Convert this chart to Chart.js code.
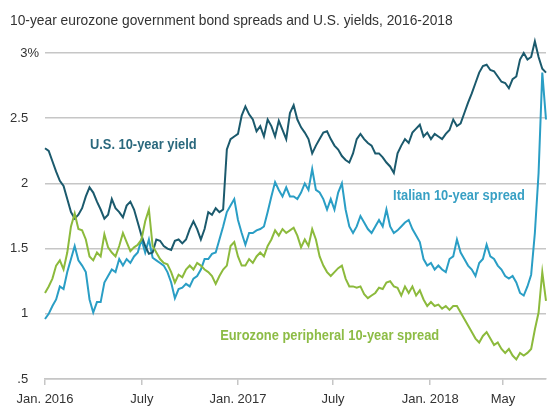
<!DOCTYPE html>
<html>
<head>
<meta charset="utf-8">
<script src="https://cdn.jsdelivr.net/npm/chart.js@4.4.1/dist/chart.umd.min.js"></script>
<style>
  html, body { margin: 0; padding: 0; background: #fff; }
  #wrap { position: relative; width: 548px; height: 407px; }
  #title {
    position: absolute; left: 10px; top: 11px;
    font: 15px "Liberation Sans", Arial, sans-serif; line-height: 18px;
    color: #333; white-space: nowrap;
    transform: scaleX(0.92); transform-origin: left top;
  }
  canvas { position: absolute; left: 0; top: 0; }
</style>
</head>
<body>
<div id="wrap">
  <canvas id="spreadChart" width="548" height="407"></canvas>
  <div id="title">10-year eurozone government bond spreads and U.S. yields, 2016-2018</div>
</div>
<script>
// weekly readings, week 0 = first week of Jan. 2016
const usYield = [
  2.27, 2.25, 2.17, 2.09, 2.02, 1.98, 1.88, 1.78, 1.73, 1.76,
  1.81, 1.90, 1.97, 1.93, 1.86, 1.80, 1.73, 1.76, 1.88, 1.81,
  1.78, 1.74, 1.83, 1.86, 1.80, 1.70, 1.60, 1.52, 1.46, 1.47,
  1.57, 1.56, 1.52, 1.50, 1.49, 1.56, 1.57, 1.54, 1.57, 1.65,
  1.71, 1.65, 1.57, 1.65, 1.78, 1.76, 1.81, 1.78, 1.80, 2.26,
  2.34, 2.36, 2.38, 2.52, 2.59, 2.53, 2.49, 2.40, 2.44, 2.36,
  2.49, 2.44, 2.36, 2.48, 2.41, 2.34, 2.54, 2.60, 2.49, 2.43,
  2.39, 2.34, 2.23, 2.29, 2.34, 2.39, 2.40, 2.34, 2.29, 2.26,
  2.21, 2.18, 2.16, 2.23, 2.34, 2.38, 2.34, 2.31, 2.29, 2.23,
  2.23, 2.20, 2.16, 2.13, 2.08, 2.23, 2.29, 2.34, 2.31, 2.39,
  2.42, 2.45, 2.36, 2.39, 2.34, 2.38, 2.36, 2.34, 2.38, 2.41,
  2.49, 2.44, 2.46, 2.54, 2.62, 2.69, 2.77, 2.85, 2.90, 2.91,
  2.87, 2.86, 2.82, 2.78, 2.77, 2.73, 2.80, 2.82, 2.95, 3.00,
  2.95, 2.97, 3.09, 2.97, 2.88, 2.85
];
const italianSpread = [
  0.96, 1.00, 1.06, 1.11, 1.21, 1.19, 1.32, 1.42, 1.52, 1.41,
  1.37, 1.32, 1.11, 1.01, 1.09, 1.09, 1.24, 1.29, 1.34, 1.32,
  1.42, 1.37, 1.42, 1.39, 1.44, 1.47, 1.57, 1.47, 1.57, 1.43,
  1.41, 1.39, 1.37, 1.32, 1.24, 1.12, 1.19, 1.20, 1.23, 1.21,
  1.27, 1.29, 1.34, 1.42, 1.42, 1.46, 1.47, 1.57, 1.67, 1.78,
  1.83, 1.88, 1.72, 1.62, 1.53, 1.62, 1.62, 1.64, 1.65, 1.67,
  1.78, 1.90, 2.01, 1.95, 1.90, 1.97, 1.90, 1.90, 1.88, 1.93,
  2.00, 1.95, 2.11, 1.95, 1.93, 1.88, 1.80, 1.88, 1.80, 1.93,
  2.00, 1.80, 1.67, 1.62, 1.67, 1.75, 1.70, 1.65, 1.62, 1.67,
  1.72, 1.67, 1.80, 1.67, 1.62, 1.64, 1.67, 1.70, 1.72, 1.65,
  1.60, 1.55, 1.42, 1.37, 1.39, 1.34, 1.37, 1.34, 1.32, 1.42,
  1.44, 1.57, 1.47, 1.42, 1.37, 1.34, 1.29, 1.39, 1.42, 1.53,
  1.44, 1.42, 1.37, 1.34, 1.29, 1.27, 1.29, 1.24, 1.16, 1.14,
  1.21, 1.30, 1.62, 2.08, 2.85, 2.49
];
const peripheralSpread = [
  1.16, 1.21, 1.27, 1.37, 1.41, 1.34, 1.47, 1.67, 1.77, 1.65,
  1.64, 1.57, 1.44, 1.41, 1.47, 1.44, 1.61, 1.51, 1.47, 1.44,
  1.52, 1.62, 1.55, 1.48, 1.51, 1.53, 1.57, 1.71, 1.80, 1.52,
  1.47, 1.42, 1.39, 1.38, 1.32, 1.24, 1.30, 1.28, 1.34, 1.37,
  1.34, 1.39, 1.37, 1.34, 1.32, 1.29, 1.23, 1.29, 1.34, 1.37,
  1.52, 1.55, 1.44, 1.37, 1.37, 1.42, 1.39, 1.44, 1.47, 1.44,
  1.52, 1.57, 1.64, 1.60, 1.65, 1.62, 1.64, 1.66, 1.60, 1.51,
  1.57, 1.52, 1.65, 1.57, 1.44, 1.37, 1.32, 1.29, 1.32, 1.35,
  1.37, 1.27, 1.21, 1.21, 1.20, 1.21, 1.15, 1.12, 1.14, 1.16,
  1.20, 1.19, 1.24, 1.25, 1.21, 1.20, 1.14, 1.21, 1.16, 1.21,
  1.14, 1.18, 1.11, 1.06, 1.09, 1.06, 1.07, 1.04, 1.06, 1.03,
  1.06, 1.06, 1.01, 0.96, 0.91, 0.86, 0.81, 0.78, 0.83, 0.86,
  0.81, 0.76, 0.78, 0.73, 0.70, 0.73, 0.68, 0.65, 0.70, 0.68,
  0.70, 0.73, 0.88, 1.01, 1.32, 1.10
];

// x-axis: week positions of the date labels
const dateTickWeeks = [0, 26.1, 52, 77.6, 103.8, 123.4];
const dateTickLabels = ["Jan. 2016", "July", "Jan. 2017", "July", "Jan. 2018", "May"];
// y-axis: percent
const yieldTicks = [0.5, 1, 1.5, 2, 2.5, 3];
const yieldTickLabels = [".5", "1", "1.5", "2", "2.5", "3%"];

const FONT = "'Liberation Sans', Arial, sans-serif";
const TEXT = "#333333";
const GRID = "#c6c6c6";

// inline line labels, placed in data units (week, percent)
const seriesLabels = [
  { text: "U.S. 10-year yield", week: 12.1, value: 2.29, color: "#2a687d" },
  { text: "Italian 10-year spread", week: 93.8, value: 1.9, color: "#38a0c4" },
  { text: "Eurozone peripheral 10-year spread", week: 47.2, value: 0.83, color: "#8dbc46" },
];

const seriesLabelPlugin = {
  id: "seriesLabels",
  afterDatasetsDraw(chart) {
    const { ctx, scales } = chart;
    const squeeze = 0.92;
    ctx.save();
    ctx.font = "bold 14px " + FONT;
    ctx.textBaseline = "middle";
    ctx.textAlign = "left";
    seriesLabels.forEach((l) => {
      const x = scales.x.getPixelForValue(l.week);
      const y = scales.y.getPixelForValue(l.value);
      ctx.save();
      ctx.translate(x, y);
      ctx.scale(squeeze, 1);
      ctx.fillStyle = l.color;
      ctx.fillText(l.text, 0, 0);
      ctx.restore();
    });
    ctx.restore();
  },
};

function toPoints(values) {
  return values.map((v, i) => ({ x: i, y: v }));
}

const ctx = document.getElementById("spreadChart").getContext("2d");

new Chart(ctx, {
  type: "line",
  data: {
    datasets: [
      {
        label: "Eurozone peripheral 10-year spread",
        data: toPoints(peripheralSpread),
        borderColor: "#8cba3c",
      },
      {
        label: "U.S. 10-year yield",
        data: toPoints(usYield),
        borderColor: "#1b5a6d",
      },
      {
        label: "Italian 10-year spread",
        data: toPoints(italianSpread),
        borderColor: "#2a9ec5",
      },
    ],
  },
  options: {
    responsive: false,
    animation: false,
    devicePixelRatio: 1,
    datasets: {
      line: { borderWidth: 2, pointRadius: 0, tension: 0, clip: false },
    },
    layout: { padding: { top: 40, right: 2, bottom: 0, left: 0 } },
    plugins: {
      legend: { display: false },
      tooltip: { enabled: false },
    },
    scales: {
      x: {
        type: "linear",
        min: 0,
        max: 135,
        afterBuildTicks: (axis) => {
          axis.ticks = dateTickWeeks.map((v) => ({ value: v }));
        },
        afterFit: (axis) => {
          axis.height = 28;
        },
        ticks: {
          autoSkip: false,
          maxRotation: 0,
          padding: 7,
          color: TEXT,
          font: { family: FONT, size: 13 },
          callback: (value, index) => dateTickLabels[index],
        },
        grid: {
          drawOnChartArea: false,
          drawTicks: true,
          tickLength: 6,
          color: GRID,
          lineWidth: 1.5,
        },
        border: { display: true, color: GRID, width: 1.5 },
      },
      y: {
        min: 0.5,
        max: 3.1,
        afterBuildTicks: (axis) => {
          axis.ticks = yieldTicks.map((v) => ({ value: v }));
        },
        afterFit: (axis) => {
          axis.width = 45;
        },
        ticks: {
          padding: 6,
          color: TEXT,
          font: { family: FONT, size: 13 },
          // trailing spaces keep the digits aligned under "3" of "3%"
          callback: (value, index) =>
            index === yieldTicks.length - 1 ? yieldTickLabels[index] : yieldTickLabels[index] + "   ",
        },
        grid: { drawTicks: false, color: GRID, lineWidth: 1.5 },
        border: { display: false },
      },
    },
  },
  plugins: [seriesLabelPlugin],
});
</script>
</body>
</html>
